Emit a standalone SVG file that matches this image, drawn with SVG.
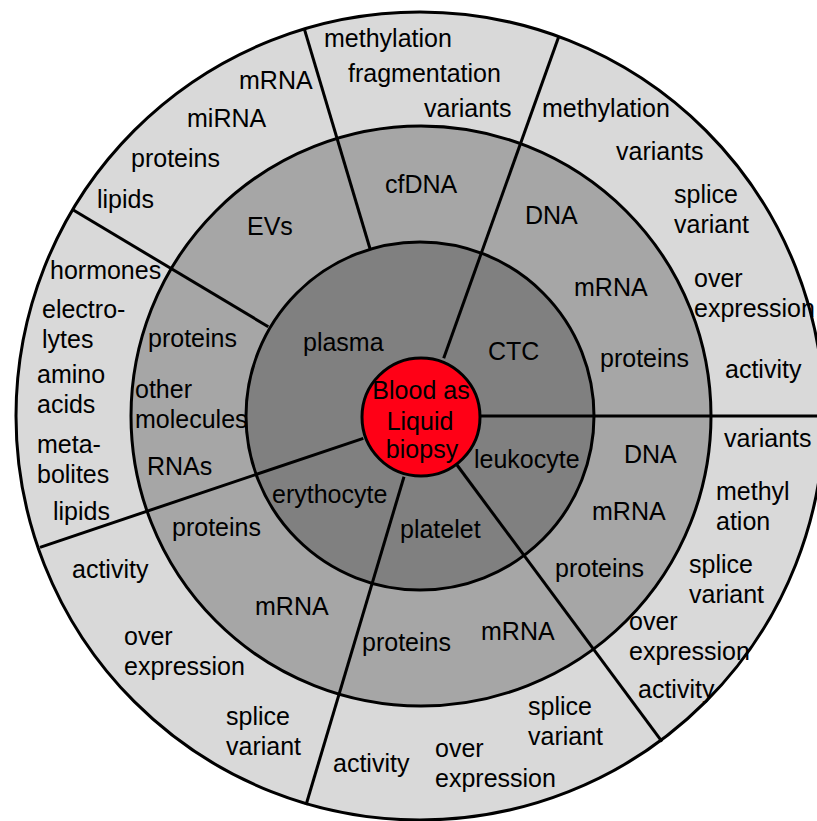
<svg xmlns="http://www.w3.org/2000/svg" width="817" height="821" viewBox="0 0 817 821">
<style>
.ring{stroke:#000;stroke-width:3}
.div{stroke:#000;stroke-width:3;fill:none}
text{font-family:"Liberation Sans",Arial,sans-serif;font-size:25px;fill:#000}
.c{text-anchor:middle}
</style>
<rect width="817" height="821" fill="#fff"/>
<g id="outer-ring">
<circle class="ring" cx="420" cy="416" r="404" fill="#d9d9d9"/>
</g>
<g id="middle-ring">
<circle class="ring" cx="421" cy="416" r="290" fill="#a6a6a6"/>
</g>
<g id="inner-ring">
<circle class="ring" cx="420" cy="416" r="174" fill="#808080"/>
</g>
<g id="connectors">
<line class="div" x1="370.2" y1="249.3" x2="304.3" y2="28.9"/>
<line class="div" x1="443.7" y1="358.3" x2="558.7" y2="36.7"/>
<line class="div" x1="268.3" y1="326.7" x2="73.3" y2="210"/>
<line class="div" x1="478" y1="416" x2="817" y2="416"/>
<line class="div" x1="363.3" y1="438.3" x2="40" y2="547.3"/>
<line class="div" x1="404" y1="476.7" x2="306" y2="805"/>
<line class="div" x1="457" y1="465" x2="662" y2="741.7"/>
</g>
<g id="center">
<circle class="ring" cx="421" cy="417" r="59" fill="#ff0016"/>
<text class="c" x="421" y="399">Blood as</text>
<text class="c" x="420" y="430">Liquid</text>
<text class="c" x="422" y="458">biopsy</text>
</g>
<g id="plasma">
<text x="303" y="351">plasma</text>
</g>
<g id="CTC">
<text x="488" y="360">CTC</text>
</g>
<g id="leukocyte">
<text x="474" y="468">leukocyte</text>
</g>
<g id="platelet">
<text x="400" y="538">platelet</text>
</g>
<g id="erythocyte">
<text x="272" y="503">erythocyte</text>
</g>
<g id="cfDNA">
<text x="385" y="193">cfDNA</text>
</g>
<g id="EVs">
<text x="247" y="235">EVs</text>
</g>
<g id="plasma-middle">
<text x="148" y="347">proteins</text>
<text x="135" y="398">other</text>
<text x="135" y="428">molecules</text>
<text x="147" y="475">RNAs</text>
</g>
<g id="erythocyte-middle">
<text x="172" y="536">proteins</text>
<text x="255" y="615">mRNA</text>
</g>
<g id="platelet-middle">
<text x="362" y="651">proteins</text>
<text x="481" y="640">mRNA</text>
</g>
<g id="leukocyte-middle">
<text x="624" y="463">DNA</text>
<text x="592" y="520">mRNA</text>
<text x="555" y="577">proteins</text>
</g>
<g id="CTC-middle">
<text x="525" y="224">DNA</text>
<text x="574" y="296">mRNA</text>
<text x="600" y="367">proteins</text>
</g>
<g id="cfDNA-outer">
<text x="324" y="47">methylation</text>
<text x="348" y="82">fragmentation</text>
<text x="424" y="117">variants</text>
</g>
<g id="EVs-outer">
<text x="239" y="89">mRNA</text>
<text x="187" y="127">miRNA</text>
<text x="131" y="167">proteins</text>
<text x="97" y="208">lipids</text>
</g>
<g id="plasma-outer">
<text x="50" y="279">hormones</text>
<text x="42" y="318">electro-</text>
<text x="42" y="348">lytes</text>
<text x="37" y="383">amino</text>
<text x="37" y="413">acids</text>
<text x="37" y="453">meta-</text>
<text x="37" y="483">bolites</text>
<text x="53" y="520">lipids</text>
</g>
<g id="erythocyte-outer">
<text x="72" y="578">activity</text>
<text x="124" y="645">over</text>
<text x="124" y="675">expression</text>
<text x="226" y="725">splice</text>
<text x="226" y="755">variant</text>
</g>
<g id="platelet-outer">
<text x="333" y="772">activity</text>
<text x="435" y="757">over</text>
<text x="435" y="787">expression</text>
<text x="528" y="715">splice</text>
<text x="528" y="745">variant</text>
</g>
<g id="leukocyte-outer">
<text x="724" y="447">variants</text>
<text x="716" y="500">methyl</text>
<text x="716" y="530">ation</text>
<text x="689" y="573">splice</text>
<text x="689" y="603">variant</text>
<text x="629" y="630">over</text>
<text x="629" y="660">expression</text>
<text x="638" y="698">activity</text>
</g>
<g id="CTC-outer">
<text x="542" y="117">methylation</text>
<text x="616" y="160">variants</text>
<text x="674" y="203">splice</text>
<text x="674" y="233">variant</text>
<text x="694" y="287">over</text>
<text x="694" y="317">expression</text>
<text x="725" y="378">activity</text>
</g>
</svg>
